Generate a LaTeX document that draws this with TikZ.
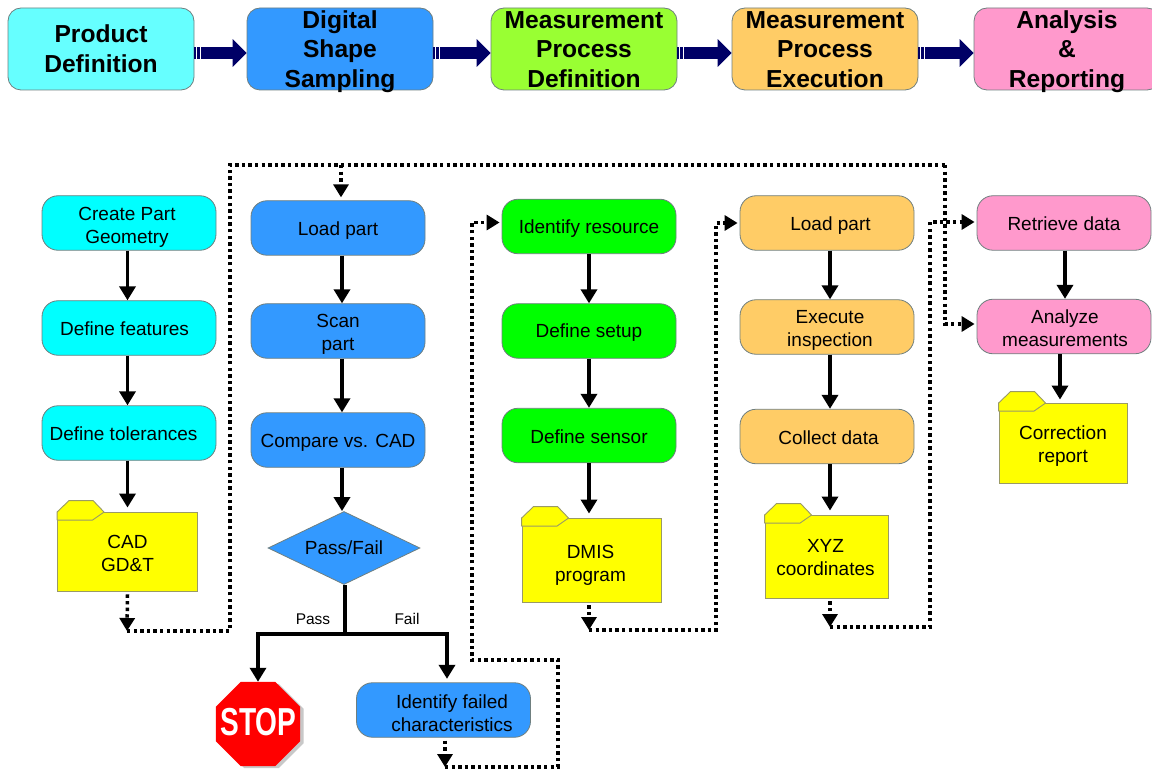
\documentclass[tikz,border=0pt]{standalone}
\usepackage{fontspec}
\setmainfont{Liberation Sans}
\usetikzlibrary{arrows.meta,shapes.geometric}
\definecolor{edgegrey}{HTML}{6F7F7F}
\definecolor{navyarrow}{HTML}{000066}
\definecolor{topcyan}{HTML}{66FFFF}
\definecolor{lowcyan}{HTML}{00FFFF}
\definecolor{blueb}{HTML}{3399FF}
\definecolor{topgreen}{HTML}{99FF33}
\definecolor{lowgreen}{HTML}{00FF00}
\definecolor{orangeb}{HTML}{FFCC66}
\definecolor{pinkb}{HTML}{FF99CC}
\definecolor{foldery}{HTML}{FFFF00}
\definecolor{folderedge}{HTML}{9A9A66}
\definecolor{stopred}{HTML}{FF0000}
\definecolor{stopshadow}{HTML}{C8C8C8}
\tikzset{
  x=1pt,y=-1pt,
  topbox/.style={draw=edgegrey,line width=0.8pt,rounded corners=13pt,minimum width=186pt,minimum height=82pt,inner sep=0pt},
  toptext/.style={inner sep=0pt,align=center,font=\fontsize{24.6}{29.7}\selectfont\bfseries},
  flowbox/.style={draw=edgegrey,line width=0.8pt,rounded corners=16pt,minimum width=174pt,minimum height=54.5pt,inner sep=0pt},
  boxtext/.style={inner sep=0pt,align=center,font=\fontsize{19}{23.3}\selectfont},
  folderbody/.style={draw=folderedge,line width=0.9pt,fill=foldery,inner sep=0pt},
  foldertab/.style={draw=folderedge,line width=0.9pt,fill=foldery,line join=round},
  flow/.style={line width=3.4pt,-{Triangle[width=16pt,length=14pt]}},
  branch/.style={line width=3.4pt,line join=miter},
  dotflow/.style={line width=3.5pt,dash pattern=on 3.4pt off 3.2pt,-{Triangle[width=15pt,length=13pt]}},
  dotline/.style={line width=3.5pt,dash pattern=on 3.4pt off 3.2pt},
  bigarrow/.style={draw=navyarrow,line width=12.5pt,-{Triangle[width=27pt,length=14pt]}},
  stripe/.style={draw=white,line width=1pt},
  smalllabel/.style={inner sep=0pt,font=\fontsize{15.5}{17}\selectfont},
  octagon/.style={regular polygon,regular polygon sides=8,minimum size=91pt,inner sep=0pt},
}
% name, fill, cx, cy, text dx, text dy, text
\newcommand{\topnode}[7]{%
  \node[topbox,fill=#2] (#1) at (#3,#4) {};
  \node[toptext,xshift=#5pt,yshift=-#6pt] (#1text) at (#3,#4) {#7};
}
\newcommand{\flownode}[7]{%
  \node[flowbox,fill=#2] (#1) at (#3,#4) {};
  \node[boxtext,xshift=#5pt,yshift=-#6pt] (#1text) at (#3,#4) {#7};
}
% name, cx, cy, w, h, text dx, text dy, text
\newcommand{\folderbox}[8]{%
  \node[folderbody,minimum width=#4pt,minimum height=#5pt] (#1) at (#2,#3) {};
  \draw[foldertab] ([yshift=-0.5pt]#1.north west) -- ++(12,-11.5) -- ++(24,0) -- ++(11,11.5) -- ++(-11.5,8) -- ++(-35.5,0) -- cycle;
  \node[boxtext,xshift=#6pt,yshift=-#7pt] (#1text) at (#2,#3) {#8};
}
\begin{document}
\begin{tikzpicture}
\useasboundingbox (0,0) rectangle (1152,770);
% top row
\topnode{t1}{topcyan}{101}{49}{0}{0}{Product\\Definition}
\topnode{t2}{blueb}{340}{49}{0}{2.5}{Digital\\Shape\\Sampling}
\topnode{t3}{topgreen}{584}{49}{0}{0.5}{Measurement\\Process\\Definition}
\topnode{t4}{orangeb}{825}{49}{0}{0.5}{Measurement\\Process\\Execution}
\topnode{t5}{pinkb}{1067}{49}{0}{2.5}{Analysis\\\&\\Reporting}
\foreach \a/\b in {t1/t2,t2/t3,t3/t4,t4/t5}{
  \draw[bigarrow] ([yshift=-4pt]\a.east) -- ([yshift=-4pt]\b.west);
  \draw[stripe] ([xshift=2.5pt,yshift=3pt]\a.east) -- ([xshift=2.5pt,yshift=-11pt]\a.east);
  \draw[stripe] ([xshift=6.5pt,yshift=3pt]\a.east) -- ([xshift=6.5pt,yshift=-11pt]\a.east);
}
% column 1
\flownode{a1}{lowcyan}{129}{223}{-2}{4}{Create Part\\Geometry}
\flownode{a2}{lowcyan}{129}{328}{-4.5}{1}{Define features}
\flownode{a3}{lowcyan}{129}{433}{-5.5}{1}{Define tolerances}
\folderbox{af}{127.5}{551.5}{140}{79}{0}{2}{CAD\\GD\&T}
% column 2
\flownode{b1}{blueb}{338}{228}{0}{3}{Load part}
\flownode{b2}{blueb}{338}{331}{0}{3.5}{Scan\\part}
\flownode{b3}{blueb}{338}{440}{0}{3}{Compare vs. CAD}
\node[diamond,aspect=2,draw=edgegrey,line width=0.8pt,fill=blueb,inner sep=0pt,minimum width=152pt,minimum height=73pt,font=\fontsize{19}{23.3}\selectfont] (b4) at (344,548) {Pass/Fail};
\flownode{b5}{blueb}{443.5}{710}{8.5}{3}{Identify failed\\characteristics}
% stop sign
\node[octagon,fill=stopshadow] (stopshade) at (261.5,726) {};
\node[octagon,fill=stopred] (stopsign) at (258,724) {};
\node[inner sep=0pt,text=white,font=\fontsize{39}{39}\selectfont\bfseries] (stoptext) at (258.5,722.5) {\scalebox{0.72}[1]{STOP}};
% column 3
\flownode{c1}{lowgreen}{589}{226.5}{0}{2}{Identify resource}
\flownode{c2}{lowgreen}{589}{331}{0}{2}{Define setup}
\flownode{c3}{lowgreen}{589}{435.5}{0}{1}{Define sensor}
\folderbox{cf}{591.5}{560}{139}{84}{-1}{5}{DMIS\\program}
% column 4
\flownode{d1}{orangeb}{827}{223}{3.5}{3}{Load part}
\flownode{d2}{orangeb}{827}{327}{3}{3.5}{Execute\\inspection}
\flownode{d3}{orangeb}{827}{436.5}{1.5}{1}{Collect data}
\folderbox{df}{826.5}{556.5}{123}{83}{-1}{1}{XYZ\\coordinates}
% column 5
\flownode{e1}{pinkb}{1064}{223}{0}{1}{Retrieve data}
\flownode{e2}{pinkb}{1064}{326.5}{1}{2}{Analyze\\measurements}
\folderbox{ef}{1063}{443}{128}{80}{0}{3}{Correction\\report}
% labels
\node[smalllabel] (passl) at (313,619) {Pass};
\node[smalllabel] (faill) at (407,619) {Fail};
% solid arrows
\foreach \p/\q/\s in {a1/a2/-1.5,a2/a3/-1.5,b1/b2/4,b2/b3/4,c1/c2/0,c2/c3/0,d1/d2/3,d2/d3/3,e1/e2/1}{
  \draw[flow] ([xshift=\s pt]\p.south) -- ([xshift=\s pt]\q.north);
}
\draw[flow] ([xshift=4pt]b3.south) -- ([xshift=-2pt]b4.north);
\draw[flow] (af.north |- a3.south) -- ([yshift=4pt]af.north);
\draw[flow] ([xshift=-2.5pt]cf.north |- c3.south) -- ([xshift=-2.5pt,yshift=4pt]cf.north);
\draw[flow] ([xshift=3.5pt]df.north |- d3.south) -- ([xshift=3.5pt,yshift=4pt]df.north);
\draw[flow] ([xshift=-3pt]ef.north |- e2.south) -- ([xshift=-3pt,yshift=3pt]ef.north);
% pass / fail branches
\coordinate (fork) at (345,634);
\draw[branch] ([xshift=1pt]b4.south) -- (fork);
\draw[flow] (fork) -| (stopsign.north);
\draw[flow] (fork) -| ([xshift=3.5pt,yshift=3.5pt]b5.north);
% dotted connectors
\coordinate (a_end) at (127,631);
\coordinate (top_l) at (230,631);
\coordinate (top_c) at (230,165);
\coordinate (top_m) at (341,165);
\coordinate (top_r) at (945,165);
\coordinate (b_end) at (445,767);
\coordinate (b_r) at (558,767);
\coordinate (b_m) at (558,660);
\coordinate (b_u) at (472,660);
\coordinate (c_end) at (589,630);
\coordinate (c_r) at (716,630);
\coordinate (d_end) at (830,627);
\coordinate (d_r) at (930,627);
\draw[dotflow] ([yshift=-3pt]af.south) -- (a_end);
\draw[dotline] (a_end) -- (top_l) -- (top_c) -- (top_m);
\draw[dotflow] (top_m) -- ([xshift=3pt,yshift=3pt]b1.north);
\draw[dotline] (top_m) -- (top_r);
\draw[dotflow] (top_r) |- ([xshift=-2pt,yshift=2.5pt]e2.west);
\draw[dotflow] ([xshift=1.5pt,yshift=-3pt]b5.south) -- (b_end);
\draw[dotflow] (b_end) -- (b_r) -- (b_m) -- (b_u) |- ([xshift=-2pt,yshift=4pt]c1.west);
\draw[dotflow] ([xshift=-2.5pt,yshift=-3pt]cf.south) -- (c_end);
\draw[dotflow] (c_end) -- (c_r) |- ([xshift=-2pt]d1.west);
\draw[dotflow] ([xshift=3.5pt,yshift=-3pt]df.south) -- (d_end);
\draw[dotflow] (d_end) -- (d_r) |- ([xshift=-2pt,yshift=1pt]e1.west);
\end{tikzpicture}
\end{document}
